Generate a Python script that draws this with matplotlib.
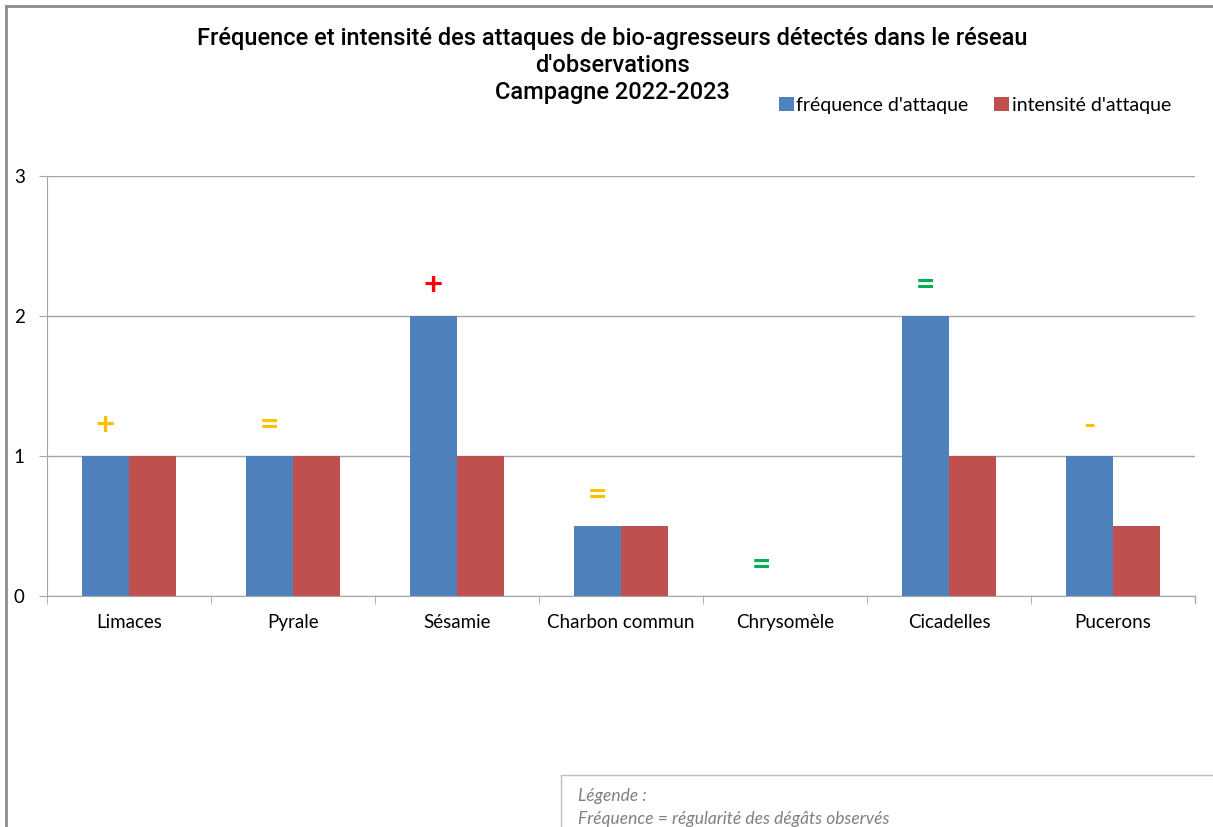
import numpy as np
import matplotlib.pyplot as plt
from matplotlib.lines import Line2D
from matplotlib.patches import Rectangle

plt.rcParams['font.family'] = ['Lato', 'DejaVu Sans']

# données
categories = ['Limaces', 'Pyrale', 'Sésamie', 'Charbon commun', 'Chrysomèle', 'Cicadelles', 'Pucerons']
frequence = [1, 1, 2, 0.5, 0, 2, 1]
intensite = [1, 1, 1, 0.5, 0, 1, 0.5]
tendance = ['+', '=', '+', '=', '=', '=', '-']
tendance_couleur = ['#FFC000', '#FFC000', '#FF0000', '#FFC000', '#00B050', '#00B050', '#FFC000']
titre = ["Fréquence et intensité des attaques de bio-agresseurs détectés dans le réseau",
         "d'observations",
         "Campagne 2022-2023"]

bleu = '#4F81BD'
rouge = '#C0504D'
gris = '#A6A6A6'

fig = plt.figure(figsize=(12.13, 8.27), dpi=100)
ax = fig.add_axes([47/1213, 1 - 596/827, (1195-47)/1213, (596-176)/827])

x = np.arange(len(categories))
w = 0.287
ax.bar(x - w/2, frequence, w, color=bleu, label="fréquence d'attaque")
ax.bar(x + w/2, intensite, w, color=rouge, label="intensité d'attaque")

for i in range(len(categories)):
    haut = max(frequence[i], intensite[i])
    ax.text(x[i] - w/2, haut + 0.22, tendance[i], color=tendance_couleur[i],
            ha='center', va='center', fontsize=24, fontweight='bold')

ax.set_xlim(-0.5, len(categories) - 0.5)
ax.set_ylim(0, 3)
ax.set_yticks([0, 1, 2, 3])
ax.yaxis.grid(True, color=gris, linewidth=1)
ax.set_axisbelow(True)
ax.set_xticks(x)
ax.set_xticklabels(categories, fontsize=13.5)
ax.set_xticks(np.arange(-0.5, len(categories)), minor=True)
ax.tick_params(axis='x', which='major', length=0, pad=13)
ax.tick_params(axis='x', which='minor', length=6, color=gris, direction='out')
ax.tick_params(axis='y', length=6, color=gris, labelsize=13.5, pad=10)
for s in ['top', 'right']:
    ax.spines[s].set_visible(False)
for s in ['left', 'bottom']:
    ax.spines[s].set_color(gris)
ax.plot([len(categories) - 0.5] * 2, [0, -0.04], color=gris, lw=1, clip_on=False)

# titre, une ligne par texte
for k, ligne in enumerate(titre):
    fig.text(612/1213, 1 - (38 + 27.5 * k)/827, ligne, ha='center', va='center',
             fontsize=17, fontweight='medium', family=['Roboto', 'DejaVu Sans'])

ax.legend(loc='center left', bbox_to_anchor=(779/1213, 1 - 105/827), bbox_transform=fig.transFigure,
          ncol=2, frameon=False, fontsize=14, handlelength=0.75, handleheight=0.75,
          handletextpad=0.15, columnspacing=1.3, borderaxespad=0, borderpad=0)

# cadre extérieur
fig.add_artist(Line2D([5.5/1213, 5.5/1213], [0, 1 - 6/827], color='#8C8C8C', lw=2))
fig.add_artist(Line2D([5.5/1213, 1], [1 - 6/827, 1 - 6/827], color='#8C8C8C', lw=2))

# encadré légende
fig.add_artist(Rectangle((561/1213, -0.05), 0.6, 0.05 + 1 - 775/827, transform=fig.transFigure,
                         facecolor='white', edgecolor='#BFBFBF', lw=1))
fig.text(578/1213, 1 - 796/827, 'Légende :', fontsize=12.5, style='italic', color='#7F7F7F', va='center')
fig.text(578/1213, 1 - 819/827, 'Fréquence = régularité des dégâts observés', fontsize=12.5,
         style='italic', color='#7F7F7F', va='center')

fig.savefig('out.png', dpi=100)
